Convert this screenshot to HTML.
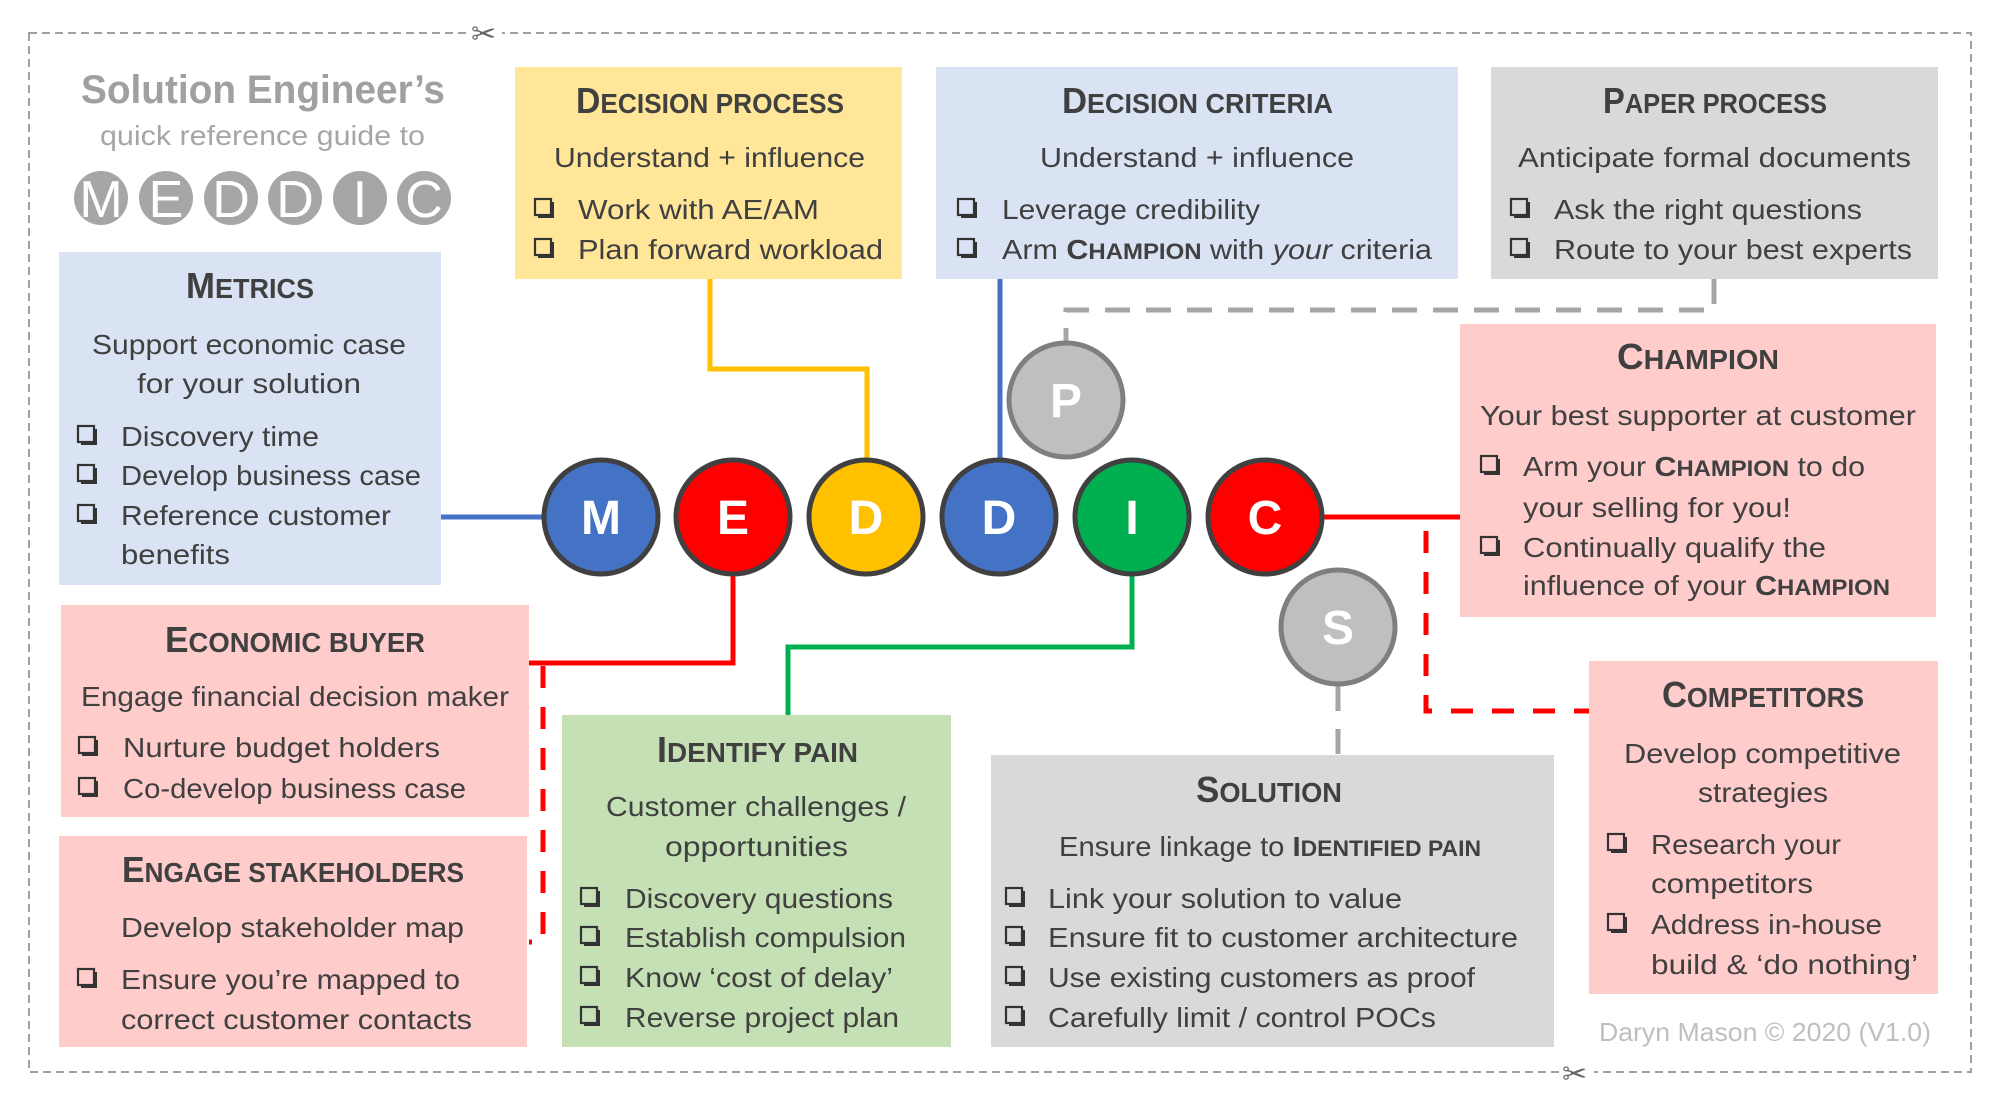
<!DOCTYPE html>
<html><head><meta charset="utf-8"><style>
html,body{margin:0;padding:0;background:#fff;}
svg{display:block;}
text{font-family:"Liberation Sans",sans-serif;fill:#404040;}
.b{font-size:28px;}
.h{font-weight:bold;}
</style></head><body>
<svg width="2000" height="1106" viewBox="0 0 2000 1106" xmlns="http://www.w3.org/2000/svg">
<defs>
<g id="cb"><rect x="1" y="-20" width="16" height="16" fill="none" stroke="#333" stroke-width="2.2"/><path d="M17 -17 h3 v16 h-16 v-3 h13z" fill="#333"/></g>
</defs>
<!-- border -->
<rect x="29" y="33" width="1942" height="1039" fill="none" stroke="#a0a0a0" stroke-width="2" stroke-dasharray="8 5"/>
<rect x="470" y="22" width="32" height="22" fill="#fff"/>
<text x="471" y="44" style="font-size:30px;fill:#666">✂</text>
<rect x="1562" y="1062" width="32" height="22" fill="#fff"/>
<text x="1562" y="1084" style="font-size:30px;fill:#666">✂</text>

<!-- Title -->
<text x="81" y="103" textLength="364" lengthAdjust="spacingAndGlyphs" class="h" style="font-size:40px;fill:#a0a0a0">Solution Engineer’s</text>
<text x="100" y="145" textLength="325" lengthAdjust="spacingAndGlyphs" style="font-size:28px;fill:#a6a6a6">quick reference guide to</text>
<g fill="#a6a6a6">
<circle cx="101" cy="198" r="27"/><circle cx="166" cy="198" r="27"/><circle cx="231" cy="198" r="27"/><circle cx="295" cy="198" r="27"/><circle cx="360" cy="198" r="27"/><circle cx="424" cy="198" r="27"/>
</g>
<g text-anchor="middle">
<text x="101" y="217" style="fill:#fff;font-size:52px">M</text><text x="166" y="217" style="fill:#fff;font-size:52px">E</text><text x="231" y="217" style="fill:#fff;font-size:52px">D</text><text x="295" y="217" style="fill:#fff;font-size:52px">D</text><text x="360" y="217" style="fill:#fff;font-size:52px">I</text><text x="424" y="217" style="fill:#fff;font-size:52px">C</text>
</g>

<!-- connectors -->
<path d="M710 279 V369 H867 V460" fill="none" stroke="#ffc000" stroke-width="5"/>
<path d="M1000 279 V460" fill="none" stroke="#4472c4" stroke-width="5"/>
<path d="M441 517 H545" fill="none" stroke="#4472c4" stroke-width="5"/>
<path d="M733 575 V663 H529" fill="none" stroke="#ff0000" stroke-width="5"/>
<path d="M543 666 V942 H529" fill="none" stroke="#ff0000" stroke-width="5" stroke-dasharray="22 19"/>
<path d="M1132 575 V647 H788 V715" fill="none" stroke="#00b050" stroke-width="5"/>
<path d="M1320 517 H1460" fill="none" stroke="#ff0000" stroke-width="5"/>
<path d="M1426 531 V711 H1589" fill="none" stroke="#ff0000" stroke-width="5" stroke-dasharray="22 19"/>
<path d="M1714 279 V310 H1066 V342" fill="none" stroke="#a6a6a6" stroke-width="5" stroke-dasharray="25 16"/>
<path d="M1338 686 V755" fill="none" stroke="#a6a6a6" stroke-width="5" stroke-dasharray="25 18"/>

<!-- big circles -->
<g stroke="#404040" stroke-width="5">
<circle cx="601" cy="517" r="57" fill="#4472c4"/>
<circle cx="733" cy="517" r="57" fill="#ff0000"/>
<circle cx="866" cy="517" r="57" fill="#ffc000"/>
<circle cx="999" cy="517" r="57" fill="#4472c4"/>
<circle cx="1132" cy="517" r="57" fill="#00b050"/>
<circle cx="1265" cy="517" r="57" fill="#ff0000"/>
</g>
<circle cx="1066" cy="400" r="57" fill="#bfbfbf" stroke="#7f7f7f" stroke-width="5"/>
<circle cx="1338" cy="627" r="57" fill="#bfbfbf" stroke="#7f7f7f" stroke-width="5"/>
<g text-anchor="middle" class="h">
<text x="601" y="534" class="h" style="fill:#fff;font-size:48px">M</text>
<text x="733" y="534" class="h" style="fill:#fff;font-size:48px">E</text>
<text x="866" y="534" class="h" style="fill:#fff;font-size:48px">D</text>
<text x="999" y="534" class="h" style="fill:#fff;font-size:48px">D</text>
<text x="1132" y="534" class="h" style="fill:#fff;font-size:48px">I</text>
<text x="1265" y="534" class="h" style="fill:#fff;font-size:48px">C</text>
<text x="1066" y="417" class="h" style="fill:#fff;font-size:48px">P</text>
<text x="1338" y="644" class="h" style="fill:#fff;font-size:48px">S</text>
</g>

<!-- METRICS -->
<rect x="59" y="252" width="382" height="333" fill="#dae3f3"/>
<text x="186" y="298" textLength="128" lengthAdjust="spacingAndGlyphs" class="h"><tspan style="font-size:36px">M</tspan><tspan style="font-size:28px">ETRICS</tspan></text>
<text x="92" y="354" textLength="314" lengthAdjust="spacingAndGlyphs" class="b">Support economic case</text>
<text x="137" y="393" textLength="224" lengthAdjust="spacingAndGlyphs" class="b">for your solution</text>
<use href="#cb" x="77" y="446"/><text x="121" y="446" textLength="198" lengthAdjust="spacingAndGlyphs" class="b">Discovery time</text>
<use href="#cb" x="77" y="485"/><text x="121" y="485" textLength="300" lengthAdjust="spacingAndGlyphs" class="b">Develop business case</text>
<use href="#cb" x="77" y="525"/><text x="121" y="525" textLength="270" lengthAdjust="spacingAndGlyphs" class="b">Reference customer</text>
<text x="121" y="564" textLength="109" lengthAdjust="spacingAndGlyphs" class="b">benefits</text>

<!-- DECISION PROCESS -->
<rect x="515" y="67" width="387" height="212" fill="#ffe699"/>
<text x="576" y="113" textLength="268" lengthAdjust="spacingAndGlyphs" class="h"><tspan style="font-size:36px">D</tspan><tspan style="font-size:28px">ECISION PROCESS</tspan></text>
<text x="554" y="167" textLength="311" lengthAdjust="spacingAndGlyphs" class="b">Understand + influence</text>
<use href="#cb" x="534" y="219"/><text x="578" y="219" textLength="241" lengthAdjust="spacingAndGlyphs" class="b">Work with AE/AM</text>
<use href="#cb" x="534" y="259"/><text x="578" y="259" textLength="305" lengthAdjust="spacingAndGlyphs" class="b">Plan forward workload</text>

<!-- DECISION CRITERIA -->
<rect x="936" y="67" width="522" height="212" fill="#dae3f3"/>
<text x="1062" y="113" textLength="271" lengthAdjust="spacingAndGlyphs" class="h"><tspan style="font-size:36px">D</tspan><tspan style="font-size:28px">ECISION CRITERIA</tspan></text>
<text x="1040" y="167" textLength="314" lengthAdjust="spacingAndGlyphs" class="b">Understand + influence</text>
<use href="#cb" x="957" y="219"/><text x="1002" y="219" textLength="258" lengthAdjust="spacingAndGlyphs" class="b">Leverage credibility</text>
<use href="#cb" x="957" y="259"/><text x="1002" y="259" textLength="430" lengthAdjust="spacingAndGlyphs" class="b">Arm <tspan class="h">C</tspan><tspan class="h" style="font-size:22px">HAMPION</tspan> with <tspan font-style="italic">your</tspan> criteria</text>

<!-- PAPER PROCESS -->
<rect x="1491" y="67" width="447" height="212" fill="#d9d9d9"/>
<text x="1603" y="113" textLength="224" lengthAdjust="spacingAndGlyphs" class="h"><tspan style="font-size:36px">P</tspan><tspan style="font-size:28px">APER PROCESS</tspan></text>
<text x="1518" y="167" textLength="393" lengthAdjust="spacingAndGlyphs" class="b">Anticipate formal documents</text>
<use href="#cb" x="1510" y="219"/><text x="1554" y="219" textLength="308" lengthAdjust="spacingAndGlyphs" class="b">Ask the right questions</text>
<use href="#cb" x="1510" y="259"/><text x="1554" y="259" textLength="358" lengthAdjust="spacingAndGlyphs" class="b">Route to your best experts</text>

<!-- CHAMPION -->
<rect x="1460" y="324" width="476" height="293" fill="#ffcccc"/>
<text x="1617" y="369" textLength="162" lengthAdjust="spacingAndGlyphs" class="h"><tspan style="font-size:36px">C</tspan><tspan style="font-size:28px">HAMPION</tspan></text>
<text x="1480" y="425" textLength="436" lengthAdjust="spacingAndGlyphs" class="b">Your best supporter at customer</text>
<use href="#cb" x="1480" y="476"/><text x="1523" y="476" textLength="342" lengthAdjust="spacingAndGlyphs" class="b">Arm your <tspan class="h">C</tspan><tspan class="h" style="font-size:22px">HAMPION</tspan> to do</text>
<text x="1523" y="517" textLength="268" lengthAdjust="spacingAndGlyphs" class="b">your selling for you!</text>
<use href="#cb" x="1480" y="557"/><text x="1523" y="557" textLength="303" lengthAdjust="spacingAndGlyphs" class="b">Continually qualify the</text>
<text x="1523" y="595" textLength="367" lengthAdjust="spacingAndGlyphs" class="b">influence of your <tspan class="h">C</tspan><tspan class="h" style="font-size:22px">HAMPION</tspan></text>

<!-- ECONOMIC BUYER -->
<rect x="61" y="605" width="468" height="212" fill="#ffcccc"/>
<text x="165" y="652" textLength="260" lengthAdjust="spacingAndGlyphs" class="h"><tspan style="font-size:36px">E</tspan><tspan style="font-size:28px">CONOMIC BUYER</tspan></text>
<text x="81" y="706" textLength="428" lengthAdjust="spacingAndGlyphs" class="b">Engage financial decision maker</text>
<use href="#cb" x="78" y="757"/><text x="123" y="757" textLength="317" lengthAdjust="spacingAndGlyphs" class="b">Nurture budget holders</text>
<use href="#cb" x="78" y="798"/><text x="123" y="798" textLength="343" lengthAdjust="spacingAndGlyphs" class="b">Co-develop business case</text>

<!-- ENGAGE STAKEHOLDERS -->
<rect x="59" y="836" width="468" height="211" fill="#ffcccc"/>
<text x="122" y="882" textLength="342" lengthAdjust="spacingAndGlyphs" class="h"><tspan style="font-size:36px">E</tspan><tspan style="font-size:28px">NGAGE STAKEHOLDERS</tspan></text>
<text x="121" y="937" textLength="343" lengthAdjust="spacingAndGlyphs" class="b">Develop stakeholder map</text>
<use href="#cb" x="77" y="989"/><text x="121" y="989" textLength="339" lengthAdjust="spacingAndGlyphs" class="b">Ensure you’re mapped to</text>
<text x="121" y="1029" textLength="351" lengthAdjust="spacingAndGlyphs" class="b">correct customer contacts</text>

<!-- IDENTIFY PAIN -->
<rect x="562" y="715" width="389" height="332" fill="#c5e0b4"/>
<text x="657" y="762" textLength="201" lengthAdjust="spacingAndGlyphs" class="h"><tspan style="font-size:36px">I</tspan><tspan style="font-size:28px">DENTIFY PAIN</tspan></text>
<text x="606" y="816" textLength="300" lengthAdjust="spacingAndGlyphs" class="b">Customer challenges /</text>
<text x="665" y="856" textLength="183" lengthAdjust="spacingAndGlyphs" class="b">opportunities</text>
<use href="#cb" x="580" y="908"/><text x="625" y="908" textLength="268" lengthAdjust="spacingAndGlyphs" class="b">Discovery questions</text>
<use href="#cb" x="580" y="947"/><text x="625" y="947" textLength="281" lengthAdjust="spacingAndGlyphs" class="b">Establish compulsion</text>
<use href="#cb" x="580" y="987"/><text x="625" y="987" textLength="268" lengthAdjust="spacingAndGlyphs" class="b">Know ‘cost of delay’</text>
<use href="#cb" x="580" y="1027"/><text x="625" y="1027" textLength="274" lengthAdjust="spacingAndGlyphs" class="b">Reverse project plan</text>

<!-- SOLUTION -->
<rect x="991" y="755" width="563" height="292" fill="#d9d9d9"/>
<text x="1196" y="802" textLength="146" lengthAdjust="spacingAndGlyphs" class="h"><tspan style="font-size:36px">S</tspan><tspan style="font-size:28px">OLUTION</tspan></text>
<text x="1059" y="856" textLength="422" lengthAdjust="spacingAndGlyphs" class="b">Ensure linkage to <tspan class="h">I</tspan><tspan class="h" style="font-size:22px">DENTIFIED PAIN</tspan></text>
<use href="#cb" x="1005" y="908"/><text x="1048" y="908" textLength="354" lengthAdjust="spacingAndGlyphs" class="b">Link your solution to value</text>
<use href="#cb" x="1005" y="947"/><text x="1048" y="947" textLength="470" lengthAdjust="spacingAndGlyphs" class="b">Ensure fit to customer architecture</text>
<use href="#cb" x="1005" y="987"/><text x="1048" y="987" textLength="427" lengthAdjust="spacingAndGlyphs" class="b">Use existing customers as proof</text>
<use href="#cb" x="1005" y="1027"/><text x="1048" y="1027" textLength="388" lengthAdjust="spacingAndGlyphs" class="b">Carefully limit / control POCs</text>

<!-- COMPETITORS -->
<rect x="1589" y="661" width="349" height="333" fill="#ffcccc"/>
<text x="1662" y="707" textLength="202" lengthAdjust="spacingAndGlyphs" class="h"><tspan style="font-size:36px">C</tspan><tspan style="font-size:28px">OMPETITORS</tspan></text>
<text x="1624" y="763" textLength="277" lengthAdjust="spacingAndGlyphs" class="b">Develop competitive</text>
<text x="1698" y="802" textLength="130" lengthAdjust="spacingAndGlyphs" class="b">strategies</text>
<use href="#cb" x="1607" y="854"/><text x="1651" y="854" textLength="190" lengthAdjust="spacingAndGlyphs" class="b">Research your</text>
<text x="1651" y="893" textLength="162" lengthAdjust="spacingAndGlyphs" class="b">competitors</text>
<use href="#cb" x="1607" y="934"/><text x="1651" y="934" textLength="231" lengthAdjust="spacingAndGlyphs" class="b">Address in-house</text>
<text x="1651" y="974" textLength="267" lengthAdjust="spacingAndGlyphs" class="b">build &amp; ‘do nothing’</text>

<text x="1599" y="1041" textLength="332" lengthAdjust="spacingAndGlyphs" style="font-size:26px;fill:#bfbfbf">Daryn Mason © 2020 (V1.0)</text>
</svg>
</body></html>
